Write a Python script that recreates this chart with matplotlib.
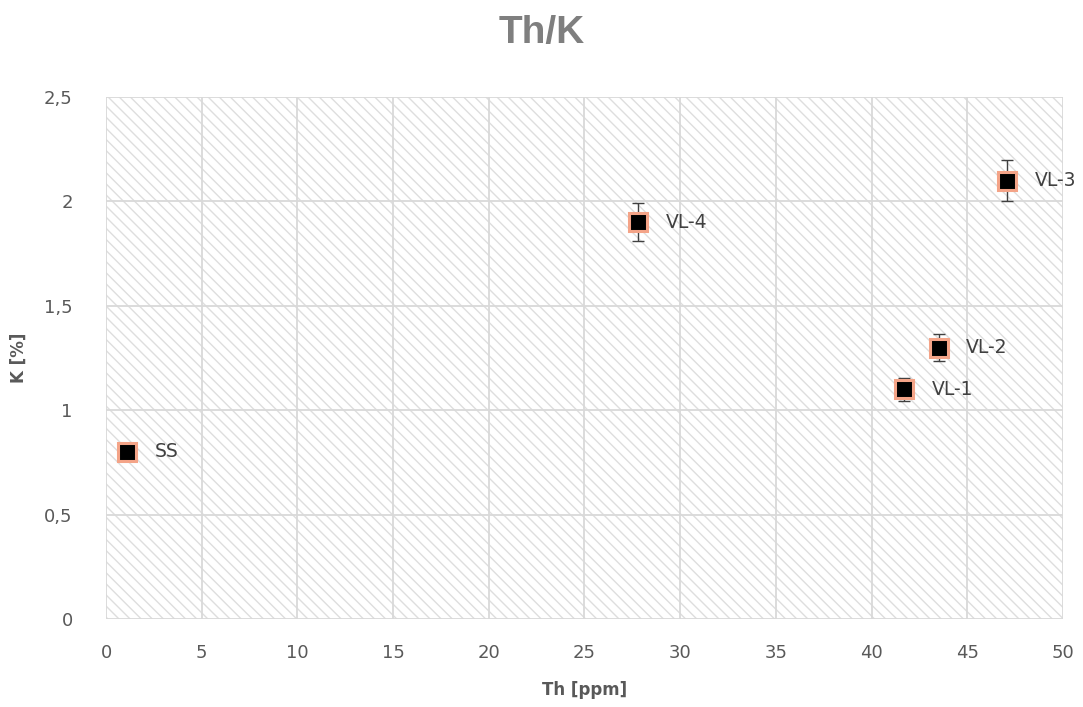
import numpy as np
import matplotlib
matplotlib.use('Agg')
import matplotlib.pyplot as plt
from matplotlib.patches import Rectangle
from matplotlib import font_manager

# Dados do gráfico
amostras = ['SS', 'VL-4', 'VL-3', 'VL-2', 'VL-1']
th = [1.1, 27.8, 47.1, 43.5, 41.7]
k = [0.80, 1.90, 2.10, 1.30, 1.10]
erro_k = [0.03, 0.09, 0.10, 0.065, 0.055]

xticks = [0, 5, 10, 15, 20, 25, 30, 35, 40, 45, 50]
yticks = [0, 0.5, 1, 1.5, 2, 2.5]
ytick_labels = ['0', '0,5', '1', '1,5', '2', '2,5']

cinza_texto = '#595959'
cinza_grade = '#d9d9d9'

# Fonte estreita para o título, se existir
nomes = {f.name for f in font_manager.fontManager.ttflist}
fonte_titulo = 'DejaVu Sans'
for nome in ['Liberation Sans Narrow', 'DejaVu Sans Condensed', 'Liberation Sans']:
    if nome in nomes:
        fonte_titulo = nome
        break

plt.rcParams['hatch.linewidth'] = 1.0
plt.rcParams['hatch.color'] = '#dedede'

fig = plt.figure(figsize=(10.83, 7.07), dpi=100)
ax = fig.add_axes([0.0979, 0.1245, 0.8836, 0.7383])

# Fundo hachurado
ax.add_patch(Rectangle((0, 0), 1, 1, transform=ax.transAxes, facecolor='white',
                       edgecolor='#dedede', hatch='\\\\\\', linewidth=0, zorder=0))

ax.errorbar(th, k, yerr=erro_k, fmt='none', ecolor='#404040', elinewidth=1,
            capsize=4.5, capthick=1, zorder=3)
ax.plot(th, k, linestyle='none', marker='s', markersize=12.5,
        markerfacecolor='black', markeredgecolor='#f4a488', markeredgewidth=2.2, zorder=4)

for nome, x, y in zip(amostras, th, k):
    ax.annotate(nome, (x, y), xytext=(20, 0), textcoords='offset points',
                va='center', ha='left', fontsize=13.5, color='#404040', zorder=5)

ax.set_xlim(0, 50)
ax.set_ylim(0, 2.5)
ax.set_xticks(xticks)
ax.set_xticklabels([str(v) for v in xticks])
ax.set_yticks(yticks)
ax.set_yticklabels(ytick_labels)
ax.tick_params(length=0, labelsize=13, labelcolor=cinza_texto)
ax.tick_params(axis='y', pad=24)
ax.tick_params(axis='x', pad=18)

ax.grid(True, color=cinza_grade, linewidth=1.3, zorder=1)
ax.set_axisbelow(True)
for s in ax.spines.values():
    s.set_visible(False)

ax.set_xlabel('Th [ppm]', fontsize=12, fontweight='bold', color=cinza_texto, labelpad=14)
ax.set_ylabel('K [%]', fontsize=12, fontweight='bold', color=cinza_texto, labelpad=12)
fig.text(0.5, 0.953, 'Th/K', ha='center', va='center', fontsize=28,
         fontweight='bold', color='#7f7f7f', family=fonte_titulo)

fig.savefig('out.png', dpi=100)
